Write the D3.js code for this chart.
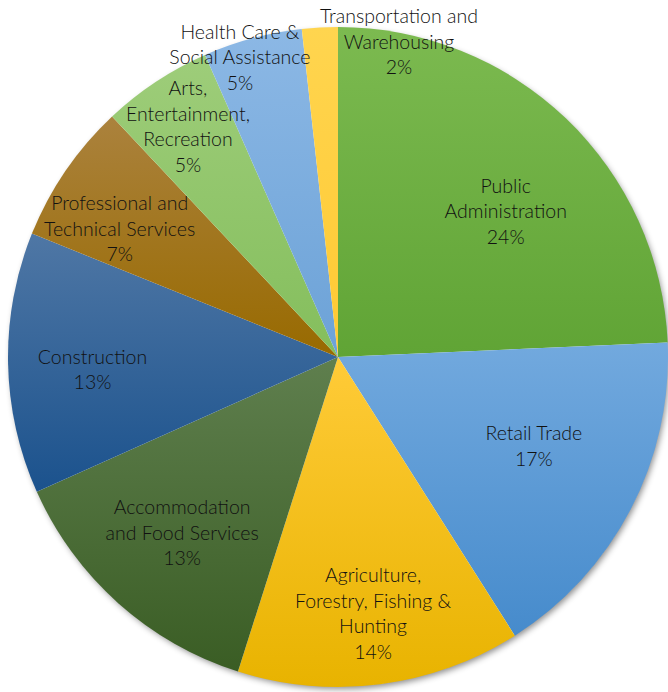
<!DOCTYPE html>
<html>
<head>
<meta charset="utf-8">
<script src="https://cdn.jsdelivr.net/npm/d3@7"></script>
<style>
  html, body { margin: 0; padding: 0; background: #ffffff; }
  svg { display: block; }
  text { font-family: Lato, "Open Sans", sans-serif; font-weight: 300; }
</style>
</head>
<body>
<svg id="chart" width="668" height="692"></svg>
<script>
// ---- data ----
const categories = [
  "Public\nAdministration",
  "Retail Trade",
  "Agriculture,\nForestry, Fishing &\nHunting",
  "Accommodation\nand Food Services",
  "Construction",
  "Professional and\nTechnical Services",
  "Arts,\nEntertainment,\nRecreation",
  "Health Care &\nSocial Assistance",
  "Transportation and\nWarehousing"
];
const values = [24.3, 16.7, 13.9, 13.4, 12.8, 6.9, 5.4, 4.85, 1.75];

// ---- styles / layout ----
const topColors    = ["#7cba50", "#72a9de", "#ffcb38", "#5f7f4e", "#4f77a5", "#ab823d", "#9ecd7a", "#8cb8e5", "#ffd54f"];
const bottomColors = ["#60a435", "#468bcc", "#e8b300", "#3a5d24", "#1b528d", "#986a00", "#84be5c", "#6ca2d7", "#ffc933"];
const labelRadius  = [0.673, 0.652, 0.785, 0.712, 0.745, 0.767, 0.833, 0.955, 0.973];
const labelAngleNudge = [5.3, -3.1, -0.4, -0.2, -1.9, -4, 0.4, -3.1, 14.1];

const W = 668, H = 692;
const cx = 338, cy = 357, R = 330;
const fontSize = 19.5, lineH = 25.5;

const svg = d3.select("#chart");
const defs = svg.append("defs");

const shadow = defs.append("filter").attr("id", "shadow")
  .attr("x", "-10%").attr("y", "-10%").attr("width", "120%").attr("height", "120%");
shadow.append("feDropShadow").attr("dx", 2).attr("dy", 3).attr("stdDeviation", 3)
  .attr("flood-color", "#000").attr("flood-opacity", 0.45);

categories.forEach((c, i) => {
  const g = defs.append("linearGradient").attr("id", "grad" + i)
    .attr("x1", 0).attr("y1", 0).attr("x2", 0).attr("y2", 1);
  g.append("stop").attr("offset", "0%").attr("stop-color", topColors[i]);
  g.append("stop").attr("offset", "100%").attr("stop-color", bottomColors[i]);
});

const pie = d3.pie().sort(null).value(d => d)(values);
const arc = d3.arc().innerRadius(0).outerRadius(R);

const g = svg.append("g").attr("transform", `translate(${cx},${cy})`);

g.append("circle").attr("r", R - 1).attr("fill", "#ffffff").attr("filter", "url(#shadow)");

g.selectAll("path.slice").data(pie).enter().append("path")
  .attr("class", "slice")
  .attr("d", arc)
  .attr("fill", (d, i) => `url(#grad${i})`)
  .attr("stroke", "none");

const total = d3.sum(values);
const fmt = d3.format(".0%");

g.selectAll("text.lbl").data(pie).enter().append("text")
  .attr("class", "lbl")
  .attr("font-size", fontSize)
  .attr("fill", "#111111")
  .attr("text-anchor", "middle")
  .each(function (d, i) {
    const mid = (d.startAngle + d.endAngle) / 2 + labelAngleNudge[i] * Math.PI / 180;
    const r = labelRadius[i] * R;
    const x = r * Math.sin(mid);
    const y = -r * Math.cos(mid);
    const lines = categories[i].split("\n").concat([fmt(d.value / total)]);
    const y0 = y - (lines.length - 1) * lineH / 2;
    const t = d3.select(this);
    lines.forEach((ln, k) => {
      t.append("tspan").attr("x", x).attr("y", y0 + k * lineH)
        .attr("dy", "0.35em").text(ln);
    });
  });
</script>
</body>
</html>
